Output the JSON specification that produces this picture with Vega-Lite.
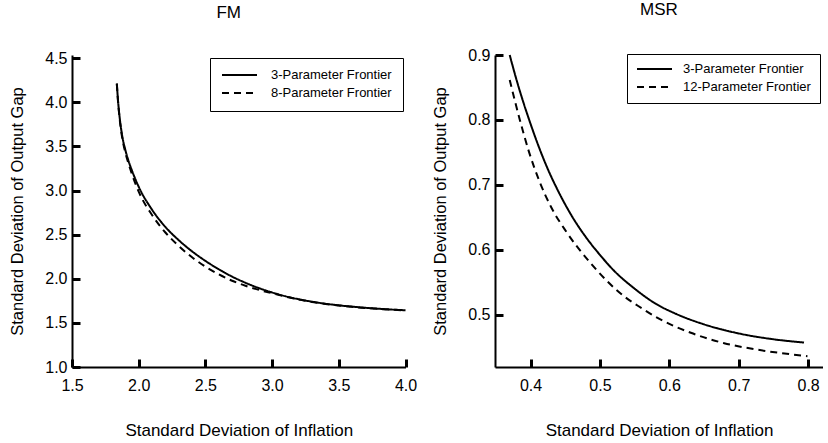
{
  "$schema": "https://vega.github.io/schema/vega-lite/v6.json",
  "padding": {"left": 9, "top": 1, "right": 0, "bottom": 0},
  "background": "white",
  "bounds": "flush",
  "spacing": 89,
  "config": {
    "font": "Liberation Sans",
    "view": {"stroke": null},
    "axis": {
      "domainColor": "black", "domainWidth": 2,
      "tickColor": "black", "tickWidth": 2,
      "labelColor": "black", "titleColor": "black",
      "labelFontSize": 16, "titleFontWeight": "normal",
      "grid": false, "labelFlush": false, "labelOverlap": false, "zindex": 1
    },
    "axisX": {"labelPadding": 10, "titlePadding": 29, "titleFontSize": 17},
    "axisY": {"labelPadding": 5, "titlePadding": 19, "titleFontSize": 16.5},
    "legend": {
      "orient": "none", "direction": "vertical", "title": null,
      "strokeColor": "black", "fillColor": "white", "padding": 11,
      "symbolType": "stroke", "symbolSize": 1225, "symbolStrokeWidth": 2,
      "symbolStrokeColor": "black", "labelFontSize": 13, "labelColor": "black",
      "labelOffset": 13, "clipHeight": 12, "rowPadding": 5, "labelLimit": 300
    },
    "title": {"fontSize": 17, "fontWeight": "normal", "color": "black", "frame": "group", "anchor": "middle", "offset": 28}
  },
  "resolve": {"scale": {"strokeDash": "independent"}, "legend": {"strokeDash": "independent"}},
  "hconcat": [
    {
      "width": 333.5,
      "height": 312,
      "title": {"text": "FM", "dx": -10},
      "data": {"values": [
        {"series": "3-Parameter Frontier", "x": 1.836, "y": 4.216},
        {"series": "3-Parameter Frontier", "x": 1.845, "y": 4.02},
        {"series": "3-Parameter Frontier", "x": 1.855, "y": 3.86},
        {"series": "3-Parameter Frontier", "x": 1.873, "y": 3.65},
        {"series": "3-Parameter Frontier", "x": 1.9, "y": 3.46},
        {"series": "3-Parameter Frontier", "x": 1.925, "y": 3.33},
        {"series": "3-Parameter Frontier", "x": 1.95, "y": 3.225},
        {"series": "3-Parameter Frontier", "x": 2.0, "y": 3.043},
        {"series": "3-Parameter Frontier", "x": 2.1, "y": 2.783},
        {"series": "3-Parameter Frontier", "x": 2.2, "y": 2.588},
        {"series": "3-Parameter Frontier", "x": 2.3, "y": 2.438},
        {"series": "3-Parameter Frontier", "x": 2.4, "y": 2.311},
        {"series": "3-Parameter Frontier", "x": 2.5, "y": 2.203},
        {"series": "3-Parameter Frontier", "x": 2.6, "y": 2.108},
        {"series": "3-Parameter Frontier", "x": 2.7, "y": 2.025},
        {"series": "3-Parameter Frontier", "x": 2.8, "y": 1.955},
        {"series": "3-Parameter Frontier", "x": 2.9, "y": 1.895},
        {"series": "3-Parameter Frontier", "x": 3.0, "y": 1.845},
        {"series": "3-Parameter Frontier", "x": 3.1, "y": 1.802},
        {"series": "3-Parameter Frontier", "x": 3.2, "y": 1.768},
        {"series": "3-Parameter Frontier", "x": 3.3, "y": 1.74},
        {"series": "3-Parameter Frontier", "x": 3.4, "y": 1.717},
        {"series": "3-Parameter Frontier", "x": 3.5, "y": 1.699},
        {"series": "3-Parameter Frontier", "x": 3.6, "y": 1.684},
        {"series": "3-Parameter Frontier", "x": 3.7, "y": 1.671},
        {"series": "3-Parameter Frontier", "x": 3.8, "y": 1.66},
        {"series": "3-Parameter Frontier", "x": 3.9, "y": 1.651},
        {"series": "3-Parameter Frontier", "x": 4.0, "y": 1.643},
        {"series": "8-Parameter Frontier", "x": 1.836, "y": 4.21},
        {"series": "8-Parameter Frontier", "x": 1.845, "y": 4.01},
        {"series": "8-Parameter Frontier", "x": 1.855, "y": 3.845},
        {"series": "8-Parameter Frontier", "x": 1.873, "y": 3.63},
        {"series": "8-Parameter Frontier", "x": 1.9, "y": 3.43},
        {"series": "8-Parameter Frontier", "x": 1.925, "y": 3.3},
        {"series": "8-Parameter Frontier", "x": 1.95, "y": 3.185},
        {"series": "8-Parameter Frontier", "x": 2.0, "y": 2.988},
        {"series": "8-Parameter Frontier", "x": 2.1, "y": 2.723},
        {"series": "8-Parameter Frontier", "x": 2.2, "y": 2.525},
        {"series": "8-Parameter Frontier", "x": 2.3, "y": 2.372},
        {"series": "8-Parameter Frontier", "x": 2.4, "y": 2.244},
        {"series": "8-Parameter Frontier", "x": 2.5, "y": 2.138},
        {"series": "8-Parameter Frontier", "x": 2.6, "y": 2.05},
        {"series": "8-Parameter Frontier", "x": 2.7, "y": 1.978},
        {"series": "8-Parameter Frontier", "x": 2.8, "y": 1.921},
        {"series": "8-Parameter Frontier", "x": 2.9, "y": 1.875},
        {"series": "8-Parameter Frontier", "x": 3.0, "y": 1.836},
        {"series": "8-Parameter Frontier", "x": 3.1, "y": 1.799},
        {"series": "8-Parameter Frontier", "x": 3.2, "y": 1.766},
        {"series": "8-Parameter Frontier", "x": 3.3, "y": 1.738},
        {"series": "8-Parameter Frontier", "x": 3.4, "y": 1.715},
        {"series": "8-Parameter Frontier", "x": 3.5, "y": 1.697},
        {"series": "8-Parameter Frontier", "x": 3.6, "y": 1.682},
        {"series": "8-Parameter Frontier", "x": 3.7, "y": 1.669},
        {"series": "8-Parameter Frontier", "x": 3.8, "y": 1.658},
        {"series": "8-Parameter Frontier", "x": 3.9, "y": 1.649},
        {"series": "8-Parameter Frontier", "x": 4.0, "y": 1.641}
      ]},
      "layer": [
        {
          "mark": {"type": "line", "strokeOpacity": 0, "interpolate": "monotone"},
          "encoding": {
            "detail": {"field": "series"},
            "x": {"field": "x", "type": "quantitative",
              "scale": {"domain": [1.5, 4.0], "nice": false, "zero": false},
              "axis": {"orient": "bottom", "values": [1.5, 2.0, 2.5, 3.0, 3.5, 4.0], "domain": false, "labels": false, "title": null, "ticks": true, "tickSize": 8, "tickWidth": 3, "tickColor": "black", "offset": -8}},
            "y": {"field": "y", "type": "quantitative",
              "scale": {"domain": [1.0, 4.537], "nice": false, "zero": false},
              "axis": {"orient": "left", "values": [1.0, 1.5, 2.0, 2.5, 3.0, 3.5, 4.0, 4.5], "domain": false, "labels": false, "title": null, "ticks": true, "tickSize": 8, "tickWidth": 3, "tickColor": "black", "offset": -8}}
          }
        },
        {
          "mark": {"type": "line", "strokeWidth": 2, "color": "black", "interpolate": "monotone"},
          "encoding": {
            "x": {"field": "x", "type": "quantitative",
              "scale": {"domain": [1.5, 4.0], "nice": false, "zero": false},
              "axis": {"orient": "bottom", "values": [1.5, 2.0, 2.5, 3.0, 3.5, 4.0], "format": ".1f", "ticks": false, "tickSize": 0, "title": "Standard Deviation of Inflation"}},
            "y": {"field": "y", "type": "quantitative",
              "scale": {"domain": [1.0, 4.537], "nice": false, "zero": false},
              "axis": {"orient": "left", "values": [1.0, 1.5, 2.0, 2.5, 3.0, 3.5, 4.0, 4.5], "format": ".1f", "ticks": false, "tickSize": 0, "title": "Standard Deviation of Output Gap"}},
            "strokeDash": {"field": "series", "type": "nominal",
              "scale": {"domain": ["3-Parameter Frontier", "8-Parameter Frontier"], "range": [[1, 0], [7, 5]]},
              "legend": {"legendX": 138, "legendY": 3}}
          }
        }
      ],
      "resolve": {"axis": {"x": "independent", "y": "independent"}}
    },
    {
      "width": 328,
      "height": 312,
      "title": {"text": "MSR"},
      "data": {"values": [
        {"series": "3-Parameter Frontier", "x": 0.370, "y": 0.9},
        {"series": "3-Parameter Frontier", "x": 0.380, "y": 0.861},
        {"series": "3-Parameter Frontier", "x": 0.390, "y": 0.826},
        {"series": "3-Parameter Frontier", "x": 0.400, "y": 0.794},
        {"series": "3-Parameter Frontier", "x": 0.410, "y": 0.764},
        {"series": "3-Parameter Frontier", "x": 0.425, "y": 0.724},
        {"series": "3-Parameter Frontier", "x": 0.440, "y": 0.690},
        {"series": "3-Parameter Frontier", "x": 0.460, "y": 0.651},
        {"series": "3-Parameter Frontier", "x": 0.480, "y": 0.619},
        {"series": "3-Parameter Frontier", "x": 0.500, "y": 0.592},
        {"series": "3-Parameter Frontier", "x": 0.520, "y": 0.568},
        {"series": "3-Parameter Frontier", "x": 0.550, "y": 0.540},
        {"series": "3-Parameter Frontier", "x": 0.580, "y": 0.517},
        {"series": "3-Parameter Frontier", "x": 0.610, "y": 0.501},
        {"series": "3-Parameter Frontier", "x": 0.650, "y": 0.485},
        {"series": "3-Parameter Frontier", "x": 0.700, "y": 0.471},
        {"series": "3-Parameter Frontier", "x": 0.750, "y": 0.462},
        {"series": "3-Parameter Frontier", "x": 0.794, "y": 0.457},
        {"series": "12-Parameter Frontier", "x": 0.370, "y": 0.8615},
        {"series": "12-Parameter Frontier", "x": 0.3846, "y": 0.80},
        {"series": "12-Parameter Frontier", "x": 0.398, "y": 0.75},
        {"series": "12-Parameter Frontier", "x": 0.413, "y": 0.705},
        {"series": "12-Parameter Frontier", "x": 0.430, "y": 0.665},
        {"series": "12-Parameter Frontier", "x": 0.452, "y": 0.627},
        {"series": "12-Parameter Frontier", "x": 0.486, "y": 0.58},
        {"series": "12-Parameter Frontier", "x": 0.510, "y": 0.552},
        {"series": "12-Parameter Frontier", "x": 0.535, "y": 0.528},
        {"series": "12-Parameter Frontier", "x": 0.560, "y": 0.51},
        {"series": "12-Parameter Frontier", "x": 0.583, "y": 0.495},
        {"series": "12-Parameter Frontier", "x": 0.631, "y": 0.472},
        {"series": "12-Parameter Frontier", "x": 0.679, "y": 0.456},
        {"series": "12-Parameter Frontier", "x": 0.727, "y": 0.446},
        {"series": "12-Parameter Frontier", "x": 0.799, "y": 0.436}
      ]},
      "layer": [
        {
          "mark": {"type": "line", "strokeOpacity": 0, "interpolate": "monotone"},
          "encoding": {
            "detail": {"field": "series"},
            "x": {"field": "x", "type": "quantitative",
              "scale": {"domain": [0.3488, 0.8214], "nice": false, "zero": false},
              "axis": {"orient": "bottom", "values": [0.4, 0.5, 0.6, 0.7, 0.8], "domain": false, "labels": false, "title": null, "ticks": true, "tickSize": 8, "tickWidth": 3, "tickColor": "black", "offset": -8}},
            "y": {"field": "y", "type": "quantitative",
              "scale": {"domain": [0.4193, 0.9], "nice": false, "zero": false},
              "axis": {"orient": "left", "values": [0.5, 0.6, 0.7, 0.8, 0.9], "domain": false, "labels": false, "title": null, "ticks": true, "tickSize": 8, "tickWidth": 3, "tickColor": "black", "offset": -8}}
          }
        },
        {
          "mark": {"type": "line", "strokeWidth": 2, "color": "black", "interpolate": "monotone"},
          "encoding": {
            "x": {"field": "x", "type": "quantitative",
              "scale": {"domain": [0.3488, 0.8214], "nice": false, "zero": false},
              "axis": {"orient": "bottom", "values": [0.4, 0.5, 0.6, 0.7, 0.8], "format": ".1f", "ticks": false, "tickSize": 0, "title": "Standard Deviation of Inflation"}},
            "y": {"field": "y", "type": "quantitative",
              "scale": {"domain": [0.4193, 0.9], "nice": false, "zero": false},
              "axis": {"orient": "left", "values": [0.5, 0.6, 0.7, 0.8, 0.9], "format": ".1f", "ticks": false, "tickSize": 0, "title": "Standard Deviation of Output Gap"}},
            "strokeDash": {"field": "series", "type": "nominal",
              "scale": {"domain": ["3-Parameter Frontier", "12-Parameter Frontier"], "range": [[1, 0], [7, 5]]},
              "legend": {"legendX": 132, "legendY": -1, "padding": 9, "labelOffset": 10}}
          }
        }
      ],
      "resolve": {"axis": {"x": "independent", "y": "independent"}}
    }
  ]
}
